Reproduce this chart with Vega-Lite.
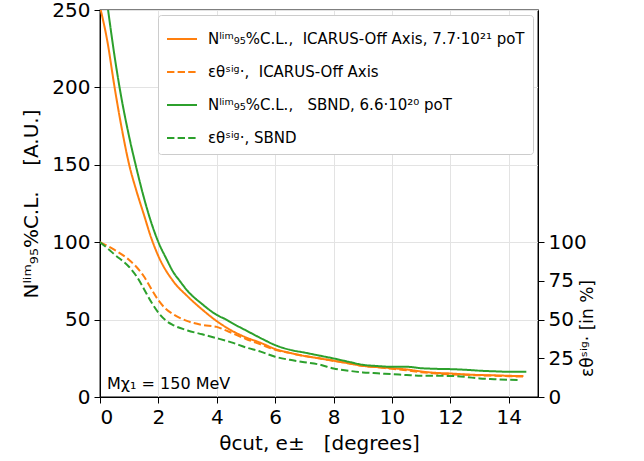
{
  "$schema": "https://vega.github.io/schema/vega-lite/v6.json",
  "autosize": "none",
  "padding": {"left": 100, "top": 10, "right": 106, "bottom": 64},
  "width": 438,
  "height": 387,
  "config": {
    "font": "DejaVu Sans",
    "view": {"stroke": "black", "strokeWidth": 1.3},
    "axis": {
      "labelFont": "DejaVu Sans", "titleFont": "DejaVu Sans",
      "labelFontSize": 20, "titleFontSize": 20, "labelColor": "black", "titleColor": "black",
      "titleFontWeight": "normal", "domainColor": "black", "tickColor": "black",
      "tickSize": 6, "gridColor": "#e3e3e3", "gridWidth": 1, "labelPadding": 4
    },
    "legend": {"labelFont": "DejaVu Sans"}
  },
  "datasets": {
    "curves": [
      {"k":"a","x":0,"y":252},{"k":"a","x":0.25,"y":230},{"k":"a","x":0.5,"y":200},{"k":"a","x":0.75,"y":173},{"k":"a","x":1.0,"y":150},{"k":"a","x":1.25,"y":133},{"k":"a","x":1.5,"y":118},{"k":"a","x":1.75,"y":103},{"k":"a","x":2.0,"y":91},{"k":"a","x":2.5,"y":75},{"k":"a","x":3.0,"y":65},{"k":"a","x":3.5,"y":56.5},{"k":"a","x":4.0,"y":49},{"k":"a","x":4.5,"y":43},{"k":"a","x":5.0,"y":38.5},{"k":"a","x":5.5,"y":35},{"k":"a","x":6.0,"y":31},{"k":"a","x":6.5,"y":28.5},{"k":"a","x":7.0,"y":26.5},{"k":"a","x":7.5,"y":25},{"k":"a","x":8.0,"y":23.4},{"k":"a","x":8.5,"y":21.8},{"k":"a","x":9.0,"y":20.1},{"k":"a","x":9.5,"y":19.3},{"k":"a","x":10.0,"y":18.6},{"k":"a","x":10.5,"y":17.8},{"k":"a","x":11.0,"y":16.5},{"k":"a","x":11.5,"y":15.6},{"k":"a","x":12.0,"y":15.2},{"k":"a","x":12.5,"y":14.6},{"k":"a","x":13.0,"y":14.2},{"k":"a","x":13.5,"y":14},{"k":"a","x":14.0,"y":13.7},{"k":"a","x":14.5,"y":13.5},
      {"k":"b","x":0,"y":100},{"k":"b","x":0.5,"y":95},{"k":"b","x":1.0,"y":88.5},{"k":"b","x":1.25,"y":84},{"k":"b","x":1.5,"y":78},{"k":"b","x":1.75,"y":70},{"k":"b","x":2.0,"y":62.5},{"k":"b","x":2.25,"y":57},{"k":"b","x":2.5,"y":53.5},{"k":"b","x":3.0,"y":49},{"k":"b","x":3.5,"y":46.5},{"k":"b","x":4.0,"y":45.3},{"k":"b","x":4.25,"y":43.5},{"k":"b","x":4.5,"y":41.5},{"k":"b","x":5.0,"y":37.5},{"k":"b","x":5.5,"y":34},{"k":"b","x":6.0,"y":30.5},{"k":"b","x":6.5,"y":28.5},{"k":"b","x":7.0,"y":26.5},{"k":"b","x":7.5,"y":25},{"k":"b","x":8.0,"y":23.4},{"k":"b","x":8.5,"y":21.8},{"k":"b","x":9.0,"y":20.1},{"k":"b","x":9.5,"y":19.2},{"k":"b","x":10.0,"y":18.2},{"k":"b","x":10.5,"y":17.3},{"k":"b","x":11.0,"y":16},{"k":"b","x":11.5,"y":15.2},{"k":"b","x":12.0,"y":14.6},{"k":"b","x":12.5,"y":14.3},{"k":"b","x":13.0,"y":14},{"k":"b","x":13.5,"y":13.8},{"k":"b","x":14.0,"y":13.4},{"k":"b","x":14.5,"y":13.2},
      {"k":"c","x":0,"y":290},{"k":"c","x":0.27,"y":251},{"k":"c","x":0.5,"y":220},{"k":"c","x":0.67,"y":200},{"k":"c","x":1.0,"y":168},{"k":"c","x":1.22,"y":150},{"k":"c","x":1.5,"y":129},{"k":"c","x":1.75,"y":113},{"k":"c","x":2.0,"y":100},{"k":"c","x":2.28,"y":89},{"k":"c","x":2.5,"y":81},{"k":"c","x":2.73,"y":75},{"k":"c","x":3.0,"y":68.5},{"k":"c","x":3.5,"y":60},{"k":"c","x":4.0,"y":53},{"k":"c","x":4.32,"y":50},{"k":"c","x":4.5,"y":48},{"k":"c","x":5.0,"y":43},{"k":"c","x":5.57,"y":37.4},{"k":"c","x":6.0,"y":33.5},{"k":"c","x":6.5,"y":30.5},{"k":"c","x":7.0,"y":28.7},{"k":"c","x":7.5,"y":26.8},{"k":"c","x":8.0,"y":24.9},{"k":"c","x":8.5,"y":22.8},{"k":"c","x":9.0,"y":20.8},{"k":"c","x":9.5,"y":20},{"k":"c","x":10.0,"y":19.5},{"k":"c","x":10.5,"y":19.5},{"k":"c","x":11.0,"y":18.6},{"k":"c","x":11.5,"y":18.2},{"k":"c","x":12.0,"y":18},{"k":"c","x":12.5,"y":17.6},{"k":"c","x":13.0,"y":17},{"k":"c","x":13.5,"y":16.6},{"k":"c","x":14.0,"y":16.3},{"k":"c","x":14.6,"y":16.3},
      {"k":"d","x":0,"y":100},{"k":"d","x":0.28,"y":95.7},{"k":"d","x":0.5,"y":92},{"k":"d","x":1.0,"y":84},{"k":"d","x":1.25,"y":78},{"k":"d","x":1.5,"y":70},{"k":"d","x":1.75,"y":61.5},{"k":"d","x":2.0,"y":54.5},{"k":"d","x":2.25,"y":49.5},{"k":"d","x":2.5,"y":46.5},{"k":"d","x":3.0,"y":43},{"k":"d","x":3.5,"y":40.5},{"k":"d","x":4.0,"y":38},{"k":"d","x":4.5,"y":35.3},{"k":"d","x":5.0,"y":32},{"k":"d","x":5.5,"y":29.3},{"k":"d","x":6.0,"y":26},{"k":"d","x":6.5,"y":24},{"k":"d","x":7.0,"y":22.5},{"k":"d","x":7.5,"y":21},{"k":"d","x":8.0,"y":18.4},{"k":"d","x":8.5,"y":17},{"k":"d","x":9.0,"y":15.9},{"k":"d","x":9.5,"y":15.3},{"k":"d","x":10.0,"y":14.8},{"k":"d","x":10.5,"y":14.2},{"k":"d","x":11.0,"y":13.7},{"k":"d","x":11.5,"y":13.7},{"k":"d","x":12.0,"y":13.6},{"k":"d","x":12.5,"y":13},{"k":"d","x":13.0,"y":12},{"k":"d","x":13.5,"y":11.5},{"k":"d","x":14.0,"y":11.1},{"k":"d","x":14.3,"y":11}
    ],
    "note": [{"x": 0.24, "y": 5, "t": "Mχ₁ = 150 MeV"}]
  },
  "layer": [
    {
      "data": {"name": "curves"},
      "mark": {"type": "line", "strokeWidth": 2, "clip": true, "interpolate": "monotone"},
      "encoding": {
        "x": {"field": "x", "type": "quantitative", "scale": {"domain": [0, 15], "nice": false},
              "axis": {"values": [0,2,4,6,8,10,12,14], "title": "θcut, e±\u00a0\u00a0\u00a0[degrees]", "titlePadding": 6}},
        "y": {"field": "y", "type": "quantitative", "scale": {"domain": [0, 250], "nice": false},
              "axis": {"values": [0,50,100,150,200,250], "title": "Nˡⁱᵐ₉₅%C.L.\u00a0\u00a0\u00a0\u00a0[A.U.]", "titlePadding": 10}},
        "color": {"field": "k", "type": "nominal",
                  "scale": {"domain": ["a","b","c","d"], "range": ["#ff7f0e","#ff7f0e","#2ca02c","#2ca02c"]},
                  "legend": {"title": null, "orient": "top-right", "offset": 5,
                             "labelExpr": "{'a':'Nˡⁱᵐ₉₅%C.L.,\u00a0\u00a0ICARUS-Off Axis, 7.7·10²¹ poT','b':'εθˢⁱᵍ·,\u00a0\u00a0ICARUS-Off Axis','c':'Nˡⁱᵐ₉₅%C.L.,\u00a0\u00a0\u00a0SBND, 6.6·10²⁰ poT','d':'εθˢⁱᵍ·, SBND'}[datum.value]",
                             "labelFontSize": 15, "labelLimit": 400, "labelColor": "black", "symbolType": "stroke", "symbolSize": 900, "symbolStrokeWidth": 2,
                             "rowPadding": 9, "padding": 8, "strokeColor": "#cccccc", "fillColor": "white", "cornerRadius": 3, "labelOffset": 10}},
        "strokeDash": {"field": "k", "type": "nominal",
                       "scale": {"domain": ["a","b","c","d"], "range": [[1,0],[7.4,3.2],[1,0],[7.4,3.2]]}},
        "order": {"field": "x", "type": "quantitative"}
      }
    },
    {
      "data": {"name": "note"},
      "mark": {"type": "text", "align": "left", "baseline": "alphabetic", "fontSize": 16, "color": "black"},
      "encoding": {
        "x": {"field": "x", "type": "quantitative"},
        "y": {"field": "y", "type": "quantitative", "scale": {"domain": [0, 250], "nice": false},
              "axis": {"orient": "right", "values": [0,25,50,75,100], "title": "εθˢⁱᵍ· [in %]", "titleFontSize": 17,
                       "titleAngle": 270, "titleY": 318, "titlePadding": 10}},
        "text": {"field": "t"}
      }
    }
  ],
  "resolve": {"scale": {"y": "independent"}}
}
